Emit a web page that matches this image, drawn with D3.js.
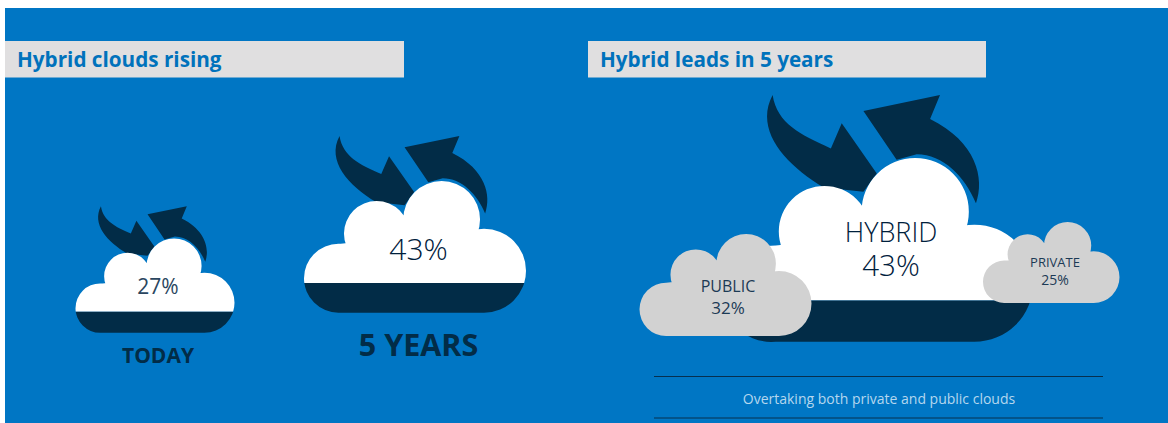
<!DOCTYPE html>
<html>
<head>
<meta charset="utf-8">
<script src="https://cdnjs.cloudflare.com/ajax/libs/d3/7.8.5/d3.min.js"></script>
<style>
  html, body { margin: 0; padding: 0; background: #fff; }
  text { font-family: "Open Sans", "Noto Sans", sans-serif; }
</style>
</head>
<body>
<div id="chart"></div>
<script>
// values
var panelTitles = ['Hybrid clouds rising', 'Hybrid leads in 5 years']
var riseLabels = ['TODAY', '5 YEARS']
var riseValues = [27, 43]
var typeLabels = ['HYBRID', 'PUBLIC', 'PRIVATE']
var typeValues = [43, 32, 25]
var footnote = 'Overtaking both private and public clouds'

// where each thing sits on the page
var titleBars = [{x: 5, w: 399, tx: 17}, {x: 588, w: 398, tx: 600}]
var riseLayout = [
  {x: 75.5, y: 238.5, w: 159, cx: 158, valueY: 294, valueSize: 21, valueWeight: 400, valueFill: '#2a4660', labelY: 363, labelSize: 21},
  {x: 304, y: 181, w: 222, cx: 418.5, valueY: 260, valueSize: 30, valueWeight: 300, valueFill: '#00203c', labelY: 356, labelSize: 30.5}
]
var typeLayout = [
  {x: 723, y: 158, w: 310, cx: 891, nameY: 242, valueY: 276, nameSize: 27, valueSize: 29.5, fill: 'white', text: '#00203c', weight: 300},
  {x: 639.5, y: 234, w: 172, cx: 728, nameY: 292, valueY: 314, nameSize: 16, valueSize: 17, fill: '#d2d2d2', text: '#1c3a55', weight: 400},
  {x: 983, y: 222, w: 136.5, cx: 1055, nameY: 267, valueY: 285, nameSize: 13, valueSize: 14, fill: '#d2d2d2', text: '#1c3a55', weight: 400}
]

var blue = '#0076c4'
var navy = '#022c47'
var splitAt = 0.46 // v of the line between white and navy
var cloudBottom = 0.593

var svg = d3.select('#chart').append('svg')
  .attr('width', 1168)
  .attr('height', 423)
  .style('display', 'block')

svg.append('rect')
  .attr('x', 5).attr('y', 8)
  .attr('width', 1163).attr('height', 415)
  .attr('fill', blue)

var bars = svg.selectAll('.title').data(panelTitles).enter().append('g').attr('class', 'title')
bars.append('rect')
  .attr('x', (d, i) => titleBars[i].x)
  .attr('y', 41)
  .attr('width', (d, i) => titleBars[i].w)
  .attr('height', 36.5)
  .attr('fill', '#e0dfe0')
bars.append('text')
  .attr('x', (d, i) => titleBars[i].tx)
  .attr('y', 66.5)
  .attr('font-size', 20.7)
  .attr('font-weight', 700)
  .attr('fill', '#0072bc')
  .text(d => d)

// cloud drawn in a unit box, width 1, all subpaths same direction so they merge
function cloudPath(b) {
  var x = d3.scaleLinear().domain([0, 1]).range([b.x, b.x + b.w])
  var y = d3.scaleLinear().domain([0, 1]).range([b.y, b.y + b.w])
  var r = v => v * b.w
  var p = d3.path()
  var lobes = [[0.155, 0.438, 0.155], [0.327, 0.237, 0.147], [0.62, 0.173, 0.173], [0.811, 0.404, 0.189]]
  lobes.forEach(function(l) {
    p.moveTo(x(l[0]) + r(l[2]), y(l[1]))
    p.arc(x(l[0]), y(l[1]), r(l[2]), 0, Math.PI * 2)
    p.closePath()
  })
  p.moveTo(x(0.155), y(0.284))
  p.lineTo(x(0.811), y(0.215))
  p.lineTo(x(0.811), y(cloudBottom))
  p.lineTo(x(0.155), y(cloudBottom))
  p.closePath()
  return p.toString()
}

function arrowPath(b, pts) {
  var x = d3.scaleLinear().domain([0, 1]).range([b.x, b.x + b.w])
  var y = d3.scaleLinear().domain([0, 1]).range([b.y, b.y + b.w])
  var p = d3.path()
  pts.forEach(function(c, i) {
    if (i == 0) p.moveTo(x(c[0]), y(c[1]))
    else if (c.length == 2) p.lineTo(x(c[0]), y(c[1]))
    else p.bezierCurveTo(x(c[0]), y(c[1]), x(c[2]), y(c[3]), x(c[4]), y(c[5]))
  })
  p.closePath()
  return p.toString()
}

var arrowIn = [[0.16, -0.203], [0.175, -0.11, 0.25, -0.075, 0.348, -0.031], [0.383, -0.112], [0.496, 0.05], [0.453, 0.109], [0.325, 0.095], [0.2, 0.02, 0.10, -0.09, 0.16, -0.203]]
var arrowOut = [[0.70, -0.203], [0.453, -0.152], [0.56, 0.006], [0.625, -0.012], [0.71, -0.012, 0.78, 0.06, 0.816, 0.146], [0.845, 0.066, 0.818, -0.052, 0.668, -0.126]]

var clipCount = 0
function drawCloud(g, b) {
  g.append('path').attr('d', arrowPath(b, arrowIn)).attr('fill', navy)
  g.append('path').attr('d', arrowPath(b, arrowOut)).attr('fill', navy)
  var splitY = b.y + b.w * splitAt
  var topId = 'clip-top-' + clipCount
  var botId = 'clip-bot-' + clipCount
  clipCount++
  var defs = g.append('defs')
  defs.append('clipPath').attr('id', topId).append('rect')
    .attr('x', b.x - 2).attr('y', b.y - 2).attr('width', b.w + 4).attr('height', splitY - b.y + 2)
  defs.append('clipPath').attr('id', botId).append('rect')
    .attr('x', b.x - 2).attr('y', splitY).attr('width', b.w + 4).attr('height', b.w)
  g.append('path').attr('d', cloudPath(b)).attr('fill', 'white').attr('clip-path', 'url(#' + topId + ')')
  g.append('path').attr('d', cloudPath(b)).attr('fill', navy).attr('clip-path', 'url(#' + botId + ')')
}

// left panel
riseValues.forEach(function(v, i) {
  var b = riseLayout[i]
  var g = svg.append('g').attr('class', 'rise')
  drawCloud(g, b)
  g.append('text')
    .attr('x', b.cx).attr('y', b.valueY)
    .attr('text-anchor', 'middle')
    .attr('font-size', b.valueSize)
    .attr('font-weight', b.valueWeight)
    .attr('fill', b.valueFill)
    .text(v + '%')
  g.append('text')
    .attr('x', b.cx).attr('y', b.labelY)
    .attr('text-anchor', 'middle')
    .attr('font-size', b.labelSize)
    .attr('font-weight', 700)
    .attr('fill', navy)
    .text(riseLabels[i])
})

// right panel, name and value are two lines of one label
typeValues.forEach(function(v, i) {
  var b = typeLayout[i]
  var g = svg.append('g').attr('class', 'type')
  if (i == 0) drawCloud(g, b)
  else g.append('path').attr('d', cloudPath(b)).attr('fill', b.fill)
  var label = g.append('text')
    .attr('text-anchor', 'middle')
    .attr('font-weight', b.weight)
    .attr('fill', b.text)
  label.append('tspan')
    .attr('x', b.cx).attr('y', b.nameY)
    .attr('font-size', b.nameSize)
    .text(typeLabels[i])
  label.append('tspan')
    .attr('x', b.cx).attr('y', b.valueY)
    .attr('font-size', b.valueSize)
    .text(v + '%')
})

svg.selectAll('.rule').data([376.5, 418]).enter().append('line')
  .attr('class', 'rule')
  .attr('x1', 654).attr('x2', 1103)
  .attr('y1', d => d).attr('y2', d => d)
  .attr('stroke', '#06304f')
  .attr('stroke-width', 1)

svg.append('text')
  .attr('x', 879).attr('y', 404)
  .attr('text-anchor', 'middle')
  .attr('font-size', 14)
  .attr('fill', '#b5d6ee')
  .text(footnote)
</script>
</body>
</html>
